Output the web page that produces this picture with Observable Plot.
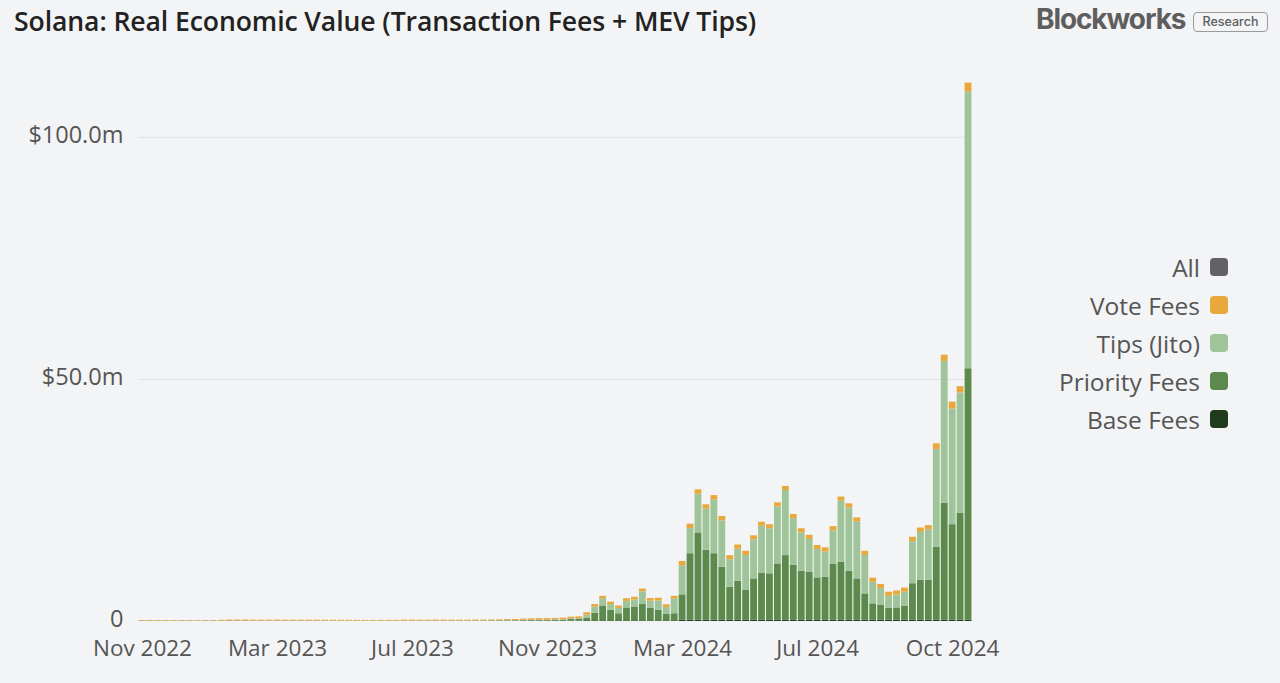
<!DOCTYPE html>
<html>
<head>
<meta charset="utf-8">
<script src="https://cdn.jsdelivr.net/npm/d3@7"></script>
<script src="https://cdn.jsdelivr.net/npm/@observablehq/plot@0.6"></script>
<style>
  html, body { margin: 0; padding: 0; background: #f3f4f6; }
  #wrap { position: relative; width: 1280px; height: 683px; overflow: hidden; background: #f3f4f6; font-family: "Open Sans", "Noto Sans", sans-serif; }
  #title { position: absolute; left: 14px; top: 3px; font-size: 26.6px; font-weight: 600; color: #222; white-space: nowrap; letter-spacing: -0.1px; }
  #logo { position: absolute; left: 1036px; top: 2px; font-family: Inter, "Liberation Sans", sans-serif; font-size: 28px; font-weight: 700; color: #5e5e5e; letter-spacing: -1.1px; }
  #badge { position: absolute; left: 1193px; top: 12px; width: 75px; height: 20px; border: 1.5px solid #9a9a9a; border-radius: 4px; box-sizing: border-box; font-family: Inter, "Liberation Sans", sans-serif; font-size: 12.5px; font-weight: 500; color: #5e5e5e; text-align: center; line-height: 17px; }
  #legend { position: absolute; right: 52px; top: 248px; }
  .item { display: flex; justify-content: flex-end; align-items: center; height: 38px; font-size: 24.5px; color: #555; }
  .sw { width: 18px; height: 18px; border-radius: 4px; margin-left: 10px; }
  #chart { position: absolute; left: 0; top: 0; }
</style>
</head>
<body>
<div id="wrap">
  <div id="chart"></div>
  <div id="title">Solana: Real Economic Value (Transaction Fees + MEV Tips)</div>
  <div id="logo">Blockworks</div>
  <div id="badge">Research</div>
  <div id="legend"></div>
</div>
<script>
// Weekly categories: Nov 14 2022 .. Nov 11 2024 (105 weeks)
const weeks = d3.utcMonday.range(new Date(Date.UTC(2022, 10, 14)), new Date(Date.UTC(2024, 10, 12)));
const tickIndexes = [0, 17, 34, 51, 68, 85, 102];
const yTicks = [0, 50, 100];

const seriesNames = ["Base Fees", "Priority Fees", "Tips (Jito)", "Vote Fees"];
const seriesColors = ["#1f3a1c", "#5b8a4c", "#9fc499", "#e9a83b"];
const legendNames = ["All", "Vote Fees", "Tips (Jito)", "Priority Fees", "Base Fees"];
const legendColors = ["#616166", "#e9a83b", "#9fc499", "#5b8a4c", "#1f3a1c"];

// Values in $ millions per week
const baseFees = [
  0.06,0.06,0.05,0.05,0.05,0.06,0.05,0.05,0.06,0.06,
  0.06,0.07,0.06,0.06,0.05,0.05,0.05,0.05,0.05,0.05,
  0.05,0.05,0.05,0.05,0.05,0.05,0.05,0.05,0.05,0.05,
  0.05,0.05,0.05,0.05,0.05,0.05,0.05,0.05,0.05,0.06,
  0.06,0.06,0.06,0.06,0.07,0.07,0.08,0.08,0.09,0.1,
  0.1,0.1,0.12,0.12,0.1,0.1,0.15,0.15,0.15,0.15,
  0.15,0.15,0.15,0.15,0.15,0.15,0.15,0.15,0.25,0.25,
  0.25,0.25,0.25,0.25,0.25,0.25,0.25,0.25,0.25,0.25,
  0.25,0.25,0.25,0.25,0.25,0.25,0.25,0.25,0.25,0.25,
  0.25,0.25,0.25,0.25,0.25,0.25,0.25,0.25,0.25,0.25,
  0.25,0.25,0.25,0.25,0.3
];
const priorityFees = [
  0.01,0.01,0.01,0.01,0.01,0.01,0.01,0.01,0.01,0.01,
  0.01,0.02,0.01,0.01,0.01,0.01,0.01,0.01,0.01,0.01,
  0.01,0.01,0.01,0.01,0.01,0.01,0.01,0.01,0.01,0.01,
  0.01,0.01,0.01,0.01,0.01,0.01,0.02,0.02,0.02,0.02,
  0.02,0.02,0.03,0.03,0.03,0.04,0.05,0.06,0.08,0.1,
  0.1,0.1,0.12,0.14,
  0.35,0.4,0.55,1.55,3.05,2.15,1.45,2.65,2.85,3.35,
  2.55,2.15,1.3,1.45,5.25,13.75,18.05,14.45,13.75,10.95,
  6.85,8.05,6.15,8.55,9.75,9.6,11.65,13.35,11.35,10.15,
  9.95,8.75,8.9,11.55,12.0,10.15,8.55,5.45,3.4,3.05,
  2.45,2.55,2.95,7.55,8.25,8.25,15.1,24.15,19.75,22.15,
  51.9
];
const tipsJito = [
  0.02,0.02,0.02,0.02,0.02,0.02,0.02,0.02,0.02,0.02,
  0.02,0.02,0.02,0.02,0.02,0.02,0.02,0.02,0.02,0.02,
  0.02,0.02,0.02,0.02,0.02,0.02,0.02,0.02,0.02,0.02,
  0.02,0.02,0.02,0.02,0.02,0.02,0.02,0.02,0.02,0.02,
  0.03,0.03,0.04,0.04,0.05,0.05,0.06,0.07,0.08,0.08,
  0.08,0.08,0.1,0.1,
  0.1,0.1,0.6,1.3,1.5,1.2,1.1,1.35,1.45,2.65,
  1.5,1.95,1.45,3.05,6.0,5.2,8.0,8.5,11.1,9.6,
  5.65,6.65,7.25,8.05,9.65,9.3,11.75,13.45,9.65,7.9,
  6.75,5.85,5.2,6.95,12.6,13.05,11.75,7.95,4.45,3.5,
  2.5,2.65,2.85,8.7,9.9,10.4,20.15,29.3,23.9,24.8,
  57.2
];
const voteFees = [
  0.12,0.12,0.11,0.11,0.1,0.1,0.1,0.1,0.1,0.11,
  0.15,0.18,0.2,0.2,0.19,0.18,0.19,0.2,0.18,0.17,
  0.17,0.18,0.18,0.17,0.17,0.16,0.16,0.15,0.14,0.14,
  0.14,0.15,0.16,0.2,0.2,0.18,0.18,0.19,0.18,0.17,
  0.16,0.16,0.15,0.15,0.16,0.18,0.19,0.2,0.25,0.28,
  0.32,0.32,0.3,0.32,
  0.35,0.35,0.5,0.5,0.5,0.5,0.5,0.55,0.55,0.55,
  0.55,0.55,0.55,0.55,0.9,0.9,0.9,0.9,0.9,0.9,
  0.85,0.85,0.85,0.85,0.85,0.85,0.85,0.85,0.85,0.85,
  0.85,0.85,0.85,0.85,0.85,0.85,0.85,0.85,0.85,0.85,
  0.85,0.85,0.85,0.9,0.9,0.9,1.2,1.3,1.4,1.3,
  1.8
];

const seriesValues = [baseFees, priorityFees, tipsJito, voteFees];
const rows = [];
seriesNames.forEach((name, s) => {
  weeks.forEach((w, i) => rows.push({week: w, series: name, value: seriesValues[s][i]}));
});

const fmtDate = d3.utcFormat("%b %Y");
const tickWeeks = tickIndexes.map(i => weeks[i]);

const chart = Plot.plot({
  width: 1280,
  height: 683,
  marginLeft: 138,
  marginRight: 308,
  marginTop: 70,
  marginBottom: 62,
  style: {background: "transparent", fontFamily: "'Open Sans', 'Noto Sans', sans-serif"},
  x: {type: "band", domain: weeks, paddingInner: 0.14, paddingOuter: 0.07},
  y: {domain: [0, 113.8]},
  color: {domain: seriesNames, range: seriesColors},
  marks: [
    Plot.ruleY([50, 100], {stroke: "#e2e3e6", strokeWidth: 1}),
    Plot.barY(rows, {x: "week", y: "value", fill: "series", order: seriesNames}),
    Plot.axisX({ticks: tickWeeks, tickFormat: d => fmtDate(d), tickSize: 0, tickPadding: 19, fontSize: 22.5, fill: "#555", label: null}),
    Plot.axisY({ticks: yTicks, tickFormat: d => d === 0 ? "0" : `$${d.toFixed(1)}m`, tickSize: 0, tickPadding: 15, fontSize: 23.5, dy: -2, fill: "#555", label: null})
  ]
});
document.getElementById("chart").appendChild(chart);

const legend = document.getElementById("legend");
legendNames.forEach((name, i) => {
  const item = document.createElement("div");
  item.className = "item";
  const t = document.createElement("span");
  t.textContent = name;
  const sw = document.createElement("span");
  sw.className = "sw";
  sw.style.background = legendColors[i];
  item.appendChild(t);
  item.appendChild(sw);
  legend.appendChild(item);
});
</script>
</body>
</html>
